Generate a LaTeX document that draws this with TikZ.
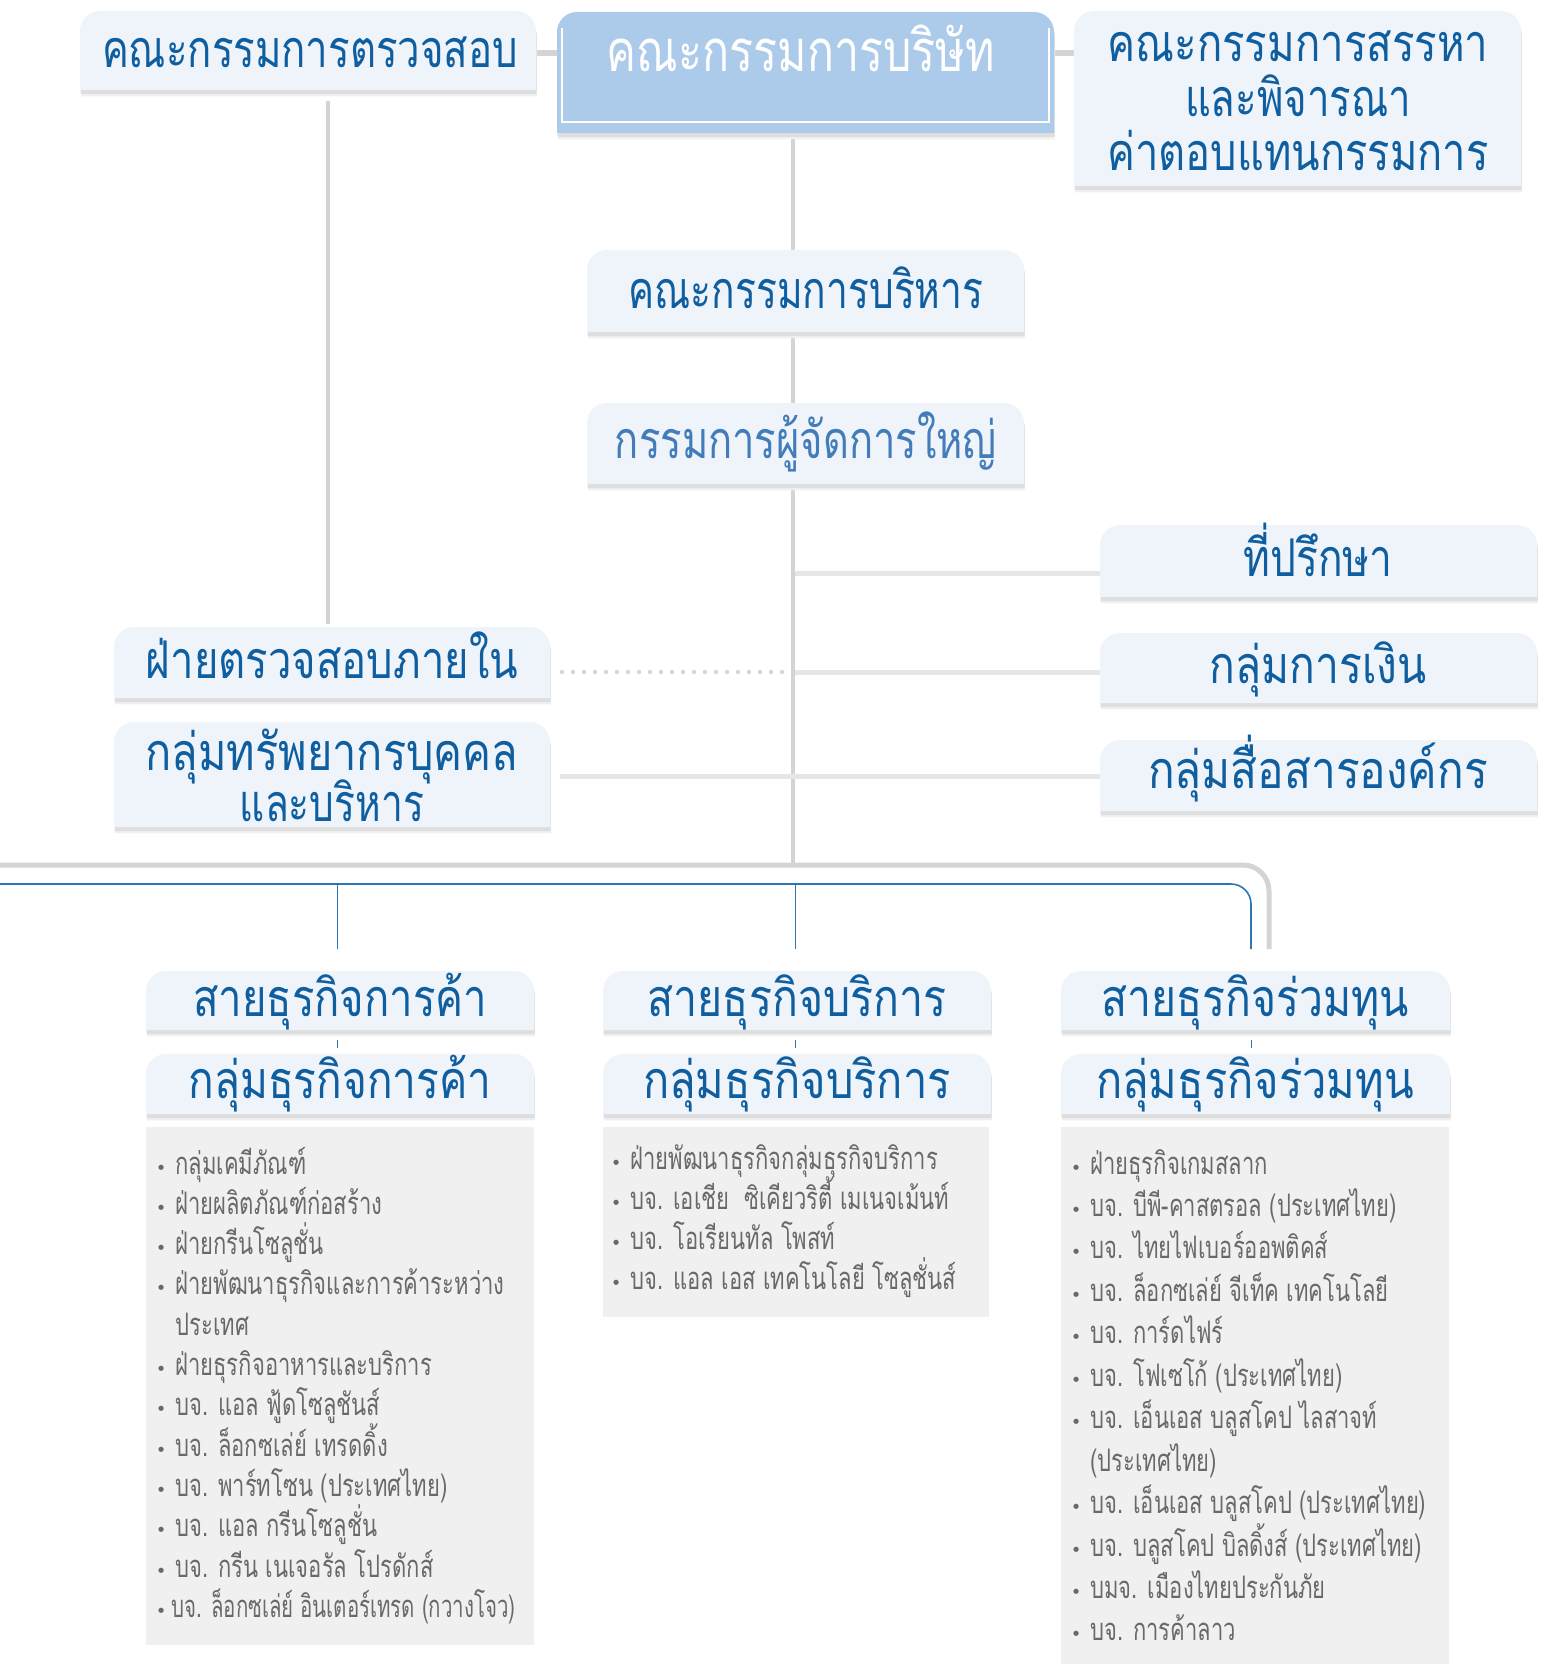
\documentclass[tikz,border=0pt]{standalone}
\usepackage{fontspec}
\usepackage{graphicx}
\newfontfamily\hdfont[Script=Thai]{Loma}
\newfontfamily\lsfont[Script=Thai,FakeStretch=0.71]{Loma}
\newfontfamily\dvfont{DejaVu Sans}
\definecolor{boxc}{RGB}{239,243,250}
\definecolor{mainc}{RGB}{172,202,233}
\definecolor{hdblue}{RGB}{14,94,160}
\definecolor{ceoblue}{RGB}{66,124,186}
\definecolor{lgray}{RGB}{212,212,212}
\definecolor{vlgray}{RGB}{230,230,230}
\definecolor{dgray}{RGB}{214,214,214}
\definecolor{lsfill}{RGB}{240,240,240}
\definecolor{lstext}{RGB}{105,105,105}
\definecolor{bline}{RGB}{46,117,182}
\newcommand\mkbox[5]{\node[boxn, minimum width={(#4-#2)*0.5pt}, minimum height={(#5-#3)*0.5pt}] (#1) at ({(#2+#4)/2},{(#3+#5)/2}) {};}
\newcommand\paint[2]{%
  \fill[black!6, rounded corners=10pt] ([xshift=0.6pt,yshift=-3.2pt]#1.south west) -- ([xshift=0.6pt,yshift=-3.2pt]#1.north west) -- ([xshift=0.6pt,yshift=-3.2pt]#1.north east) -- ([xshift=0.6pt,yshift=-3.2pt]#1.south east);
  \fill[black!13, rounded corners=10pt] ([xshift=0.3pt,yshift=-2pt]#1.south west) -- ([xshift=0.3pt,yshift=-2pt]#1.north west) -- ([xshift=0.3pt,yshift=-2pt]#1.north east) -- ([xshift=0.3pt,yshift=-2pt]#1.south east);
  \fill[#2, rounded corners=10pt] (#1.south west) -- (#1.north west) -- (#1.north east) -- (#1.south east);}
\newcommand\hw[2]{\resizebox{#1pt}{\height}{#2}}
\newcommand\bl{\llap{{\dvfont\fontsize{9pt}{9pt}\selectfont •}\hspace{4.5pt}}}
\newcommand\bls{\llap{{\dvfont\fontsize{9pt}{9pt}\selectfont •}\hspace{2.5pt}}}
\begin{document}
\begin{tikzpicture}[x=0.5pt,y=-0.5pt,
  boxn/.style={inner sep=0pt, outer sep=0pt, rectangle},
  hd/.style={inner sep=0pt, anchor=base, text=hdblue, font=\hdfont\fontsize{26pt}{30pt}\selectfont},
  ls/.style={inner sep=0pt, anchor=base west, text=lstext, font=\lsfont\fontsize{15.5pt}{18pt}\selectfont},
  vline/.style={draw=lgray, line width=2pt},
  topconn/.style={draw=lgray, line width=3pt},
  hconn/.style={draw=vlgray, line width=2.5pt},
  dotc/.style={draw=dgray, line width=2.2pt, dash pattern=on 0pt off 5.5pt, line cap=round},
  barline/.style={draw=lgray, line width=2.5pt},
  blue/.style={draw=bline, line width=0.8pt}]
\useasboundingbox (0,0) rectangle (1553,1664);
% box nodes
\mkbox{A}{80}{11}{536}{90}
\mkbox{Main}{557}{12}{1054}{133}
\mkbox{Nom}{1074}{11}{1521}{186}
\mkbox{Exec}{587}{250}{1024}{332}
\mkbox{CEO}{587}{403}{1024}{484}
\mkbox{Adv}{1100}{525}{1537}{597}
\mkbox{Fin}{1100}{633}{1537}{703}
\mkbox{Comm}{1100}{740}{1537}{811}
\mkbox{IA}{114}{627}{550}{698}
\mkbox{HR}{114}{722}{550}{827}
\mkbox{T1}{146}{971}{534}{1030}
\mkbox{T2}{603}{971}{991}{1030}
\mkbox{T3}{1061}{971}{1450}{1030}
\mkbox{G1}{146}{1054}{534}{1114}
\mkbox{G2}{603}{1054}{991}{1114}
\mkbox{G3}{1061}{1054}{1450}{1114}
\mkbox{L1}{146}{1127}{534}{1645}
\mkbox{L2}{603}{1127}{989}{1317}
\mkbox{L3}{1061}{1127}{1449}{1664}
\coordinate (sp) at (793,0);
\coordinate (barL) at (-5,865);
\coordinate (blL) at (-5,884);
% connectors
\draw[topconn] (A.east |- 0,53) -- (Main.west |- 0,53);
\draw[topconn] (Main.east |- 0,53) -- (Nom.west |- 0,53);
\draw[vline] ([xshift=-2pt,yshift=-5.5pt]A.south -| IA.north) -- ([xshift=-2pt,yshift=1.5pt]IA.north);
\draw[vline] (sp |- Main.south) -- (sp |- Exec.north);
\draw[vline] (sp |- Exec.south) -- (sp |- CEO.north);
\draw[vline] (sp |- CEO.south) -- (sp |- barL);
\draw[hconn] ([xshift=1pt]sp |- 0,573) -- (Adv.west |- 0,573);
\draw[hconn] ([xshift=1pt]sp |- 0,672) -- (Fin.west |- 0,672);
\draw[hconn, shorten <=5pt] (HR.east |- 0,776) -- (Comm.west |- 0,776);
\draw[dotc, shorten <=6pt] (IA.east |- 0,672) -- ([xshift=-1pt]sp |- 0,672);
\draw[barline, rounded corners=13pt] (barL) -- (1269,865) -- (1269,949);
\draw[blue, rounded corners=10pt] (blL) -- (1251,884) -- (1251,949);
\draw[blue] ([xshift=-1.2pt]T1.north |- blL) -- ([xshift=-1.2pt,yshift=11pt]T1.north);
\draw[blue] ([xshift=-0.8pt]T2.north |- blL) -- ([xshift=-0.8pt,yshift=11pt]T2.north);
\draw[blue] ([xshift=-1.2pt,yshift=-5pt]T1.south) -- ([xshift=-1.2pt,yshift=3pt]G1.north);
\draw[blue] ([xshift=-0.8pt,yshift=-5pt]T2.south) -- ([xshift=-0.8pt,yshift=3pt]G2.north);
\draw[blue] ([xshift=-2pt,yshift=-5pt]T3.south) -- ([xshift=-2pt,yshift=3pt]G3.north);
% paint boxes
\paint{A}{boxc}
\paint{Main}{mainc}
\draw[white, line width=0.8pt] ([xshift=2.5pt,yshift=-8pt]Main.north west) -- ([xshift=2.5pt,yshift=5.5pt]Main.south west) -- ([xshift=-2.5pt,yshift=5.5pt]Main.south east) -- ([xshift=-2.5pt,yshift=-8pt]Main.north east);
\paint{Nom}{boxc}
\paint{Exec}{boxc}
\paint{CEO}{boxc}
\paint{Adv}{boxc}
\paint{Fin}{boxc}
\paint{Comm}{boxc}
\paint{IA}{boxc}
\paint{HR}{boxc}
\paint{T1}{boxc}\paint{T2}{boxc}\paint{T3}{boxc}
\paint{G1}{boxc}\paint{G2}{boxc}\paint{G3}{boxc}
\fill[lsfill] (L1.south west) rectangle (L1.north east);
\fill[lsfill] (L2.south west) rectangle (L2.north east);
\fill[lsfill] (L3.south west) rectangle (L3.north east);
% heading texts
\node[hd] (tA) at (310,68) {\hw{208}{คณะกรรมการตรวจสอบ}};
\node[hd, text=white, font=\hdfont\fontsize{29pt}{32pt}\selectfont] (tMain) at (801,72) {\hw{194}{คณะกรรมการบริษัท}};
\node[hd] (tNom1) at (1298,62) {\hw{190.5}{คณะกรรมการสรรหา}};
\node[hd] (tNom2) at (1298,117) {\hw{113}{และพิจารณา}};
\node[hd] (tNom3) at (1298,171) {\hw{190.5}{ค่าตอบแทนกรรมการ}};
\node[hd] (tExec) at (806,308) {\hw{177.5}{คณะกรรมการบริหาร}};
\node[hd, text=ceoblue] (tCEO) at (806,458) {\hw{191}{กรรมการผู้จัดการใหญ่}};
\node[hd] (tAdv) at (1318,576) {\hw{74.5}{ที่ปรึกษา}};
\node[hd] (tFin) at (1318,683) {\hw{108.5}{กลุ่มการเงิน}};
\node[hd] (tComm) at (1318,788) {\hw{170}{กลุ่มสื่อสารองค์กร}};
\node[hd] (tIA) at (332,678) {\hw{186}{ฝ่ายตรวจสอบภายใน}};
\node[hd] (tHR1) at (332,770) {\hw{186.5}{กลุ่มทรัพยากรบุคคล}};
\node[hd] (tHR2) at (332,821) {\hw{92}{และบริหาร}};
\node[hd] (tT1) at (340,1016) {\hw{147}{สายธุรกิจการค้า}};
\node[hd] (tT2) at (797,1016) {\hw{149.5}{สายธุรกิจบริการ}};
\node[hd] (tT3) at (1255,1016) {\hw{154}{สายธุรกิจร่วมทุน}};
\node[hd] (tG1) at (340,1098) {\hw{151.5}{กลุ่มธุรกิจการค้า}};
\node[hd] (tG2) at (797,1098) {\hw{154}{กลุ่มธุรกิจบริการ}};
\node[hd] (tG3) at (1255,1098) {\hw{159}{กลุ่มธุรกิจร่วมทุน}};
% lists
\foreach \t [count=\i from 0] in {\bl กลุ่มเคมีภัณฑ์, \bl ฝ่ายผลิตภัณฑ์ก่อสร้าง, \bl ฝ่ายกรีนโซลูชั่น, \bl ฝ่ายพัฒนาธุรกิจและการค้าระหว่าง, ประเทศ, \bl ฝ่ายธุรกิจอาหารและบริการ, \bl บจ. แอล ฟู้ดโซลูชันส์, \bl บจ. ล็อกซเล่ย์ เทรดดิ้ง, \bl บจ. พาร์ทโซน (ประเทศไทย), \bl บจ. แอล กรีนโซลูชั่น, \bl บจ. กรีน เนเจอรัล โปรดักส์}
  \node[ls] (La\i) at (175,{1174+40.3*\i}) {\t};
\node[ls] (La11) at (171,{1174+40.3*11}) {\bls\hw{172}{บจ. ล็อกซเล่ย์ อินเตอร์เทรด (กวางโจว)}};
\foreach \t [count=\i from 0] in {\bl ฝ่ายพัฒนาธุรกิจกลุ่มธุรกิจบริการ, \bl บจ. เอเชีย\ \ ซิเคียวริตี้ เมเนจเม้นท์, \bl บจ. โอเรียนทัล โพสท์, \bl บจ. แอล เอส เทคโนโลยี โซลูชั่นส์}
  \node[ls] (Lb\i) at (630,{1169+40*\i}) {\t};
\foreach \t [count=\i from 0] in {\bl ฝ่ายธุรกิจเกมสลาก, \bl บจ. บีพี-คาสตรอล (ประเทศไทย), \bl บจ. ไทยไฟเบอร์ออพติคส์, \bl บจ. ล็อกซเล่ย์ จีเท็ค เทคโนโลยี, \bl บจ. การ์ดไฟร์, \bl บจ. โฟเซโก้ (ประเทศไทย), \bl บจ. เอ็นเอส บลูสโคป ไลสาจท์, (ประเทศไทย), \bl บจ. เอ็นเอส บลูสโคป (ประเทศไทย), \bl บจ. บลูสโคป บิลดิ้งส์ (ประเทศไทย), \bl บมจ. เมืองไทยประกันภัย, \bl บจ. การค้าลาว}
  \node[ls] (Lc\i) at (1090,{1174+42.45*\i}) {\t};
\end{tikzpicture}
\end{document}
